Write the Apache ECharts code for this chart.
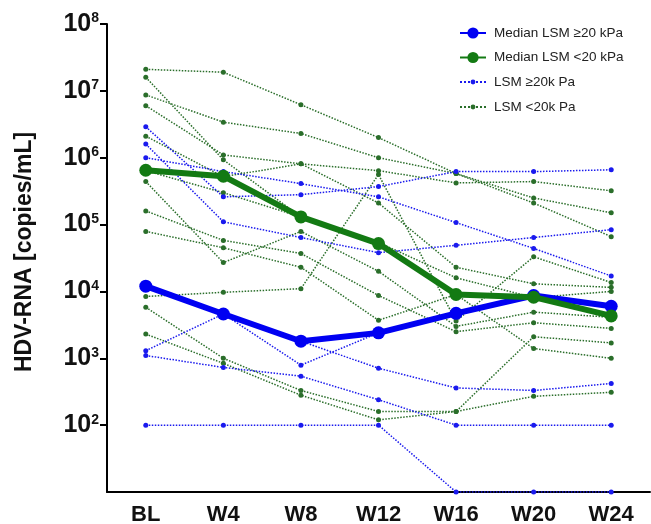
<!DOCTYPE html>
<html><head><meta charset="utf-8">
<script src="https://cdn.jsdelivr.net/npm/echarts@6/dist/echarts.min.js"></script>
<style>html,body{margin:0;padding:0;background:#fff}#c{width:651px;height:524px}</style>
</head><body><div id="c"></div>
<script>
const categories = ['BL', 'W4', 'W8', 'W12', 'W16', 'W20', 'W24'];
const yTickExponents = [2, 3, 4, 5, 6, 7, 8];
const yTickValues = [100, 1000, 10000, 100000, 1000000, 10000000, 100000000];

const medianHigh = [12000, 4600, 1800, 2400, 4700, 8700, 6000];
const medianLow = [650000, 530000, 130000, 52000, 9000, 8200, 4300];

// LSM >=20 kPa patients
const high1 = [2900000, 260000, 280000, 370000, 620000, 620000, 660000];
const high2 = [1600000, 110000, 64000, 38000, 49000, 64000, 84000];
const high3 = [1000000, 620000, 410000, 260000, 107000, 44000, 17000];
const high4 = [12000, 4600, 1800, 710, 360, 330, 420];
const high5 = [1300, 4600, 790, 2400, 4700, 8700, 6000];
const high6 = [1100, 730, 540, 240, 100, 100, 100];
const high7 = [100, 100, 100, 100, 10, 10, 10];

// LSM <20 kPa patients
const low1 = [21000000, 19000000, 6200000, 2000000, 580000, 250000, 150000];
const low2 = [8700000, 3400000, 2300000, 1000000, 580000, 210000, 66000];
const low3 = [16000000, 930000, 130000, 54000, 9000, 8100, 4500];
const low4 = [6000000, 1100000, 810000, 640000, 420000, 440000, 320000];
const low5 = [2100000, 520000, 810000, 210000, 23000, 13000, 11500];
const low6 = [640000, 300000, 130000, 54000, 16000, 8100, 10000];
const low7 = [440000, 27000, 79000, 20000, 3000, 4900, 4100];
const low8 = [160000, 58000, 37000, 8700, 2500, 3400, 2800];
const low9 = [79000, 45000, 23000, 3700, 9000, 1400, 1000];
const low10 = [8400, 9700, 11000, 560000, 3600, 33000, 13600];
const low11 = [5800, 1000, 330, 160, 160, 270, 310];
const low12 = [2300, 840, 280, 120, 160, 2100, 1700];

const highPatients = [high1, high2, high3, high4, high5, high6, high7];
const lowPatients = [low1, low2, low3, low4, low5, low6, low7, low8, low9, low10, low11, low12];

const FONT = '"Liberation Sans", Arial, sans-serif';
const BLUE_I = '#1a1aee';
const GREEN_I = '#2a6e2a';
const BLUE_M = '#0000f2';
const GREEN_M = '#137a13';

function indiv(name, data, color) {
  return {
    name: name, type: 'line', data: data, symbol: 'circle', symbolSize: 5,
    lineStyle: { type: 'dotted', width: 1.5, color: color },
    itemStyle: { color: color }, z: 2, silent: true, animation: false
  };
}
function median(name, data, color, z) {
  return {
    name: name, type: 'line', data: data, symbol: 'circle', symbolSize: 13,
    lineStyle: { width: 6, color: color }, itemStyle: { color: color },
    z: z, silent: true, animation: false
  };
}

const series = [];
lowPatients.forEach(d => series.push(indiv('LSM <20k Pa', d, GREEN_I)));
highPatients.forEach(d => series.push(indiv('LSM \u226520k Pa', d, BLUE_I)));
series.push(median('Median LSM \u226520 kPa', medianHigh, BLUE_M, 5));
series.push(median('Median LSM <20 kPa', medianLow, GREEN_M, 6));

const legendText = { fontSize: 13.5, color: '#222', fontFamily: FONT, padding: [0, 0, 0, 3] };

const chart = echarts.init(document.getElementById('c'), null, { renderer: 'canvas' });
chart.setOption({
  animation: false,
  backgroundColor: '#ffffff',
  textStyle: { fontFamily: FONT },
  grid: { left: 107, right: 1, top: 24, bottom: 32, containLabel: false, outerBoundsMode: 'none' },
  legend: [{
    orient: 'vertical', left: 459, top: 26, padding: 0,
    itemWidth: 26, itemHeight: 14, itemGap: 10.5, selectedMode: false,
    textStyle: legendText,
    data: ['Median LSM \u226520 kPa', 'Median LSM <20 kPa']
  }, {
    orient: 'vertical', left: 459, top: 75, padding: 0,
    itemWidth: 26, itemHeight: 6, itemGap: 11, selectedMode: false,
    textStyle: legendText,
    data: ['LSM \u226520k Pa', 'LSM <20k Pa']
  }],
  xAxis: {
    type: 'category', data: categories, boundaryGap: true,
    axisLine: { lineStyle: { color: '#000', width: 2 } },
    axisTick: { alignWithLabel: true, length: 7, lineStyle: { color: '#000', width: 2 } },
    axisLabel: { fontSize: 22, fontWeight: 'bold', color: '#111', margin: 12, fontFamily: FONT },
    splitLine: { show: false }
  },
  yAxis: {
    type: 'log', logBase: 10, min: 10, max: 100000000,
    axisLine: { show: true, lineStyle: { color: '#000', width: 2 } },
    axisTick: { show: true, length: 7, customValues: yTickValues, lineStyle: { color: '#000', width: 2 } },
    splitLine: { show: false },
    axisLabel: {
      margin: 8, fontFamily: FONT,
      formatter: function (v) {
        const e = Math.round(Math.log10(v));
        if (yTickExponents.indexOf(e) < 0) return '';
        return '{a|10}{b|' + e + '}';
      },
      rich: {
        a: { fontSize: 25, fontWeight: 'bold', color: '#111', fontFamily: FONT, lineHeight: 25 },
        b: { fontSize: 14, fontWeight: 'bold', color: '#111', fontFamily: FONT, verticalAlign: 'top', lineHeight: 14 }
      }
    }
  },
  graphic: [{
    type: 'text', x: 25, y: 252, rotation: Math.PI / 2,
    style: { text: 'HDV-RNA [copies/mL]', font: 'bold 23px "Liberation Sans", Arial, sans-serif',
      fill: '#111', align: 'center', verticalAlign: 'middle' }
  }],
  series: series
});
</script>
</body></html>
